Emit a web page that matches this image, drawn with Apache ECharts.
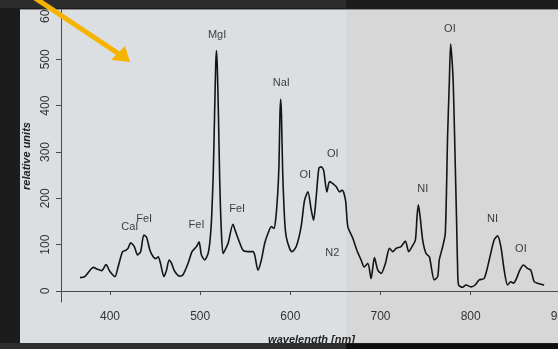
<!DOCTYPE html>
<html>
<head>
<meta charset="utf-8">
<script src="https://cdn.jsdelivr.net/npm/echarts@6/dist/echarts.min.js"></script>
<style>
html,body{margin:0;padding:0;background:#1c1c1c;}
#chart{width:558px;height:349px;}
</style>
</head>
<body>
<div id="chart"></div>
<script>
// Spectrum: wavelength (nm) and intensity (relative units)
var wavelength = [366.8,372,377.9,381.5,386,390.8,395.6,400,405.5,409,414,417.7,420,423,427,430.6,434,437.6,440.6,444.3,448,451,453.5,456,459.8,462.7,465.6,468.2,471.9,477.5,481,486.7,491,496,498.8,501.4,505,508.8,511,512.6,514.5,516,517.3,518.1,519,520.3,521.7,523.5,525.4,528,531,536.4,539,542,547.6,553,558.6,560.5,564.2,567.9,571.6,575.2,579,581.8,583.7,586,587.4,588.5,589.3,590.2,591.5,593.7,595.5,599.2,601.8,606.6,612,615.8,619.5,623.2,625.8,628.7,631.7,634.3,636.9,640.6,643.5,647.2,651,654.6,657.5,661.2,663.8,669.3,673.8,678.5,682,686,689.6,693.3,697,700.7,705.5,710,713.6,717.3,722.8,727.6,731.3,735,738.7,740.5,742,744,746.8,750.5,754.2,759.7,763.4,765.2,769,771.9,774.5,776.3,777.8,779.3,780.7,782.6,784.4,785.5,786.6,791,794.8,800.3,805,809.5,815,820.6,826,829.8,833.5,837.2,841,844.5,847.5,850.8,854.5,858.6,863,866.7,870.4,874,881.5];
var intensity = [29,31,45,51,47,44,57,42,31,52,85,88,92,104,96,78,85,121,116,88,74,70,74,60,31,45,67,60,42,32,35,60,85,96,106,78,67,81,110,153,250,380,490,519,485,380,240,130,81,90,103,144,130,114,88,85,85,78,45,67,103,124,139,135,153,210,270,380,414,380,260,153,117,92,85,96,139,196,214,175,153,203,265,268,261,214,236,232,225,214,218,196,139,114,88,67,52,60,27,72,45,38,60,92,85,92,96,108,85,96,110,160,186,160,110,81,74,24,31,67,96,125,340,448,533,500,448,300,150,52,13,8,13,9,13,24,27,67,110,119,96,45,13,20,17,27,45,56,49,45,20,17,13];

// Line annotations
var peakNames = ['CaI','FeI','FeI','FeI','MgI','NaI','OI','OI','N2','NI','OI','NI','OI'];
var peakX = [422,438,496,541,518.8,590,616.6,647,646.5,746.8,777,824.3,855.7];
var peakY = [139,155,142,178,552,448,250,296,83,221,565,155,90];

// Axis ticks
var xTicks = [400,500,600,700,800,900];
var yTicks = [0,100,200,300,400,500,600];

var chart = echarts.init(document.getElementById('chart'), null, {renderer:'canvas'});

var lineData = wavelength.map(function(w,i){return [w,intensity[i]];});
var labelData = peakNames.map(function(n,i){return {value:[peakX[i],peakY[i]], name:n};});

var FONT = 'Liberation Sans, Arial, Helvetica, sans-serif';

chart.setOption({
  backgroundColor:'#1c1c1c',
  animation:false,
  graphic:[
    {type:'rect', z:-20, shape:{x:0,y:0,width:346,height:8}, style:{fill:'#2c2c2c'}},
    {type:'rect', z:-20, shape:{x:0,y:343,width:346,height:6}, style:{fill:'#2e2e2e'}},
    {type:'rect', z:-15, shape:{x:20,y:9,width:326,height:334}, style:{fill:'#dcdfe2'}},
    {type:'rect', z:-15, shape:{x:346,y:9,width:212,height:334}, style:{fill:'#d7d7d7'}},
    {type:'line', z:-14, shape:{x1:20,y1:9.5,x2:558,y2:9.5}, style:{stroke:'#8a8a8a',lineWidth:1}},
    {type:'rect', z:30, shape:{x:0,y:344,width:346,height:5}, style:{fill:'#2e2e2e'}},
    {type:'rect', z:30, shape:{x:346,y:344,width:212,height:5}, style:{fill:'#0e0e0e'}},
    {type:'line', z:40, shape:{x1:20,y1:-12,x2:119,y2:54}, style:{stroke:'#f6b300',lineWidth:5}},
    {type:'polygon', z:40, shape:{points:[[130,62],[111,60],[125,46]]}, style:{fill:'#f6b300'}}
  ],
  grid:{left:61, right:-4, top:10, bottom:47, containLabel:false, outerBoundsMode:'none'},
  xAxis:{
    type:'value', min:345.7, max:901.3,
    name:'wavelength [nm]', nameLocation:'middle', nameGap:32,
    nameTextStyle:{fontFamily:FONT, fontStyle:'italic', fontWeight:'bold', fontSize:11, color:'#222'},
    axisLine:{show:true, lineStyle:{color:'#4a4a4a', width:1}},
    axisTick:{show:true, length:4, customValues:xTicks, lineStyle:{color:'#4a4a4a'}},
    axisLabel:{customValues:xTicks, margin:9, fontFamily:FONT, fontSize:12, color:'#333', showMinLabel:true, showMaxLabel:true},
    splitLine:{show:false}
  },
  yAxis:{
    type:'value', min:-23.7, max:606.5,
    name:'relative units', nameLocation:'middle', nameGap:28, nameRotate:90,
    nameTextStyle:{fontFamily:FONT, fontStyle:'italic', fontWeight:'bold', fontSize:11, color:'#222'},
    axisLine:{show:true, lineStyle:{color:'#4a4a4a', width:1}},
    axisTick:{show:true, length:5, customValues:yTicks, lineStyle:{color:'#4a4a4a'}},
    axisLabel:{customValues:yTicks, rotate:90, margin:9, fontFamily:FONT, fontSize:12, color:'#333'},
    splitLine:{show:false}
  },
  series:[
    {type:'line', data:lineData, showSymbol:false, smooth:0.25,
     lineStyle:{color:'#141414', width:1.6}, z:5},
    {type:'scatter', data:labelData, symbolSize:0, z:6,
     label:{show:true, position:'inside', formatter:function(p){return p.name;},
            fontFamily:FONT, fontSize:11, color:'#111'}}
  ]
});
</script>
</body>
</html>
